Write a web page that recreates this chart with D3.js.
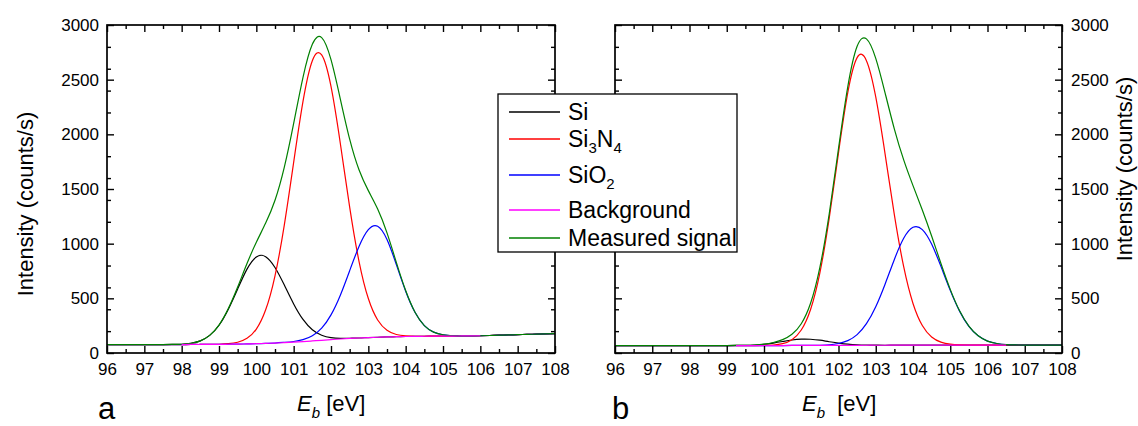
<!DOCTYPE html>
<html>
<head>
<meta charset="utf-8">
<script src="https://cdn.jsdelivr.net/npm/d3@7"></script>
<style>
  body { margin: 0; background: #fff; }
  svg { display: block; font-family: "Liberation Sans", Arial, sans-serif; }
</style>
</head>
<body>
<div id="chart"></div>
<script>
// binding energy grid (eV)
const energy = [96, 96.25, 96.5, 96.75, 97, 97.25, 97.5, 97.75, 98, 98.25, 98.5, 98.75,
  99, 99.25, 99.5, 99.75, 100, 100.25, 100.5, 100.75, 101, 101.25, 101.5, 101.75,
  102, 102.25, 102.5, 102.75, 103, 103.25, 103.5, 103.75, 104, 104.25, 104.5, 104.75,
  105, 105.25, 105.5, 105.75, 106, 106.25, 106.5, 106.75, 107, 107.25, 107.5, 107.75, 108]

// panel a (counts/s, component curves include background)
const siA = [76, 76, 76, 76, 76, 76, 77, 78, 80, 89, 111, 161, 254, 401, 586, 767, 879, 881, 782, 621,
  449, 307, 213, 162, 140, 134, 135, 137, 141, 144, 147, 149, 151, 152, 153, 154, 155, 155, 156, 157,
  158, 160, 163, 165, 168, 170, 173, 175, 177]
const si3n4A = [76, 76, 76, 76, 76, 76, 77, 77, 77, 78, 78, 79, 80, 85, 98, 134, 219, 395, 706, 1172,
  1744, 2301, 2673, 2727, 2438, 1916, 1334, 839, 498, 302, 208, 169, 157, 153, 153, 154, 155, 155, 156, 157,
  158, 160, 163, 165, 168, 170, 173, 175, 177]
const sio2A = [76, 76, 76, 76, 76, 76, 77, 77, 77, 78, 78, 79, 79, 80, 81, 83, 85, 88, 91, 97,
  105, 122, 158, 228, 349, 529, 753, 974, 1128, 1159, 1038, 809, 565, 372, 251, 191, 167, 158, 157, 157,
  158, 160, 163, 165, 168, 170, 173, 175, 177]
// background is only visible over the fit range
const bgA = [null, null, null, null, null, null, null, null, 77, 78, 78, 79, 79, 80, 81, 83, 85, 88, 91, 95,
  99, 104, 110, 116, 122, 128, 133, 137, 141, 144, 147, 149, 151, 152, 153, 154, 155, 155, 156, 157,
  158, null, null, null, null, null, null, null, null]
const measA = [76, 76, 76, 76, 76, 76, 77, 78, 80, 89, 111, 161, 255, 406, 603, 818, 1013, 1188, 1397, 1700,
  2100, 2522, 2824, 2885, 2683, 2323, 1956, 1676, 1485, 1317, 1099, 829, 571, 373, 251, 191, 167, 158, 157, 157,
  158, 160, 163, 165, 168, 170, 173, 175, 177]

// panel b
const siB = [68, 68, 68, 68, 68, 68, 68, 68, 68, 68, 68, 68, 68, 69, 70, 73, 80, 91, 105, 119,
  127, 126, 117, 103, 91, 81, 75, 73, 72, 71, 72, 72, 72, 72, 72, 72, 72, 72, 72, 72,
  72, 72, 72, 72, 72, 72, 72, 72, 72]
const si3n4B = [68, 68, 68, 68, 68, 68, 68, 68, 68, 68, 68, 68, 68, 68, 68, 68, 69, 73, 85, 121,
  210, 398, 733, 1231, 1831, 2383, 2702, 2674, 2342, 1822, 1264, 789, 453, 251, 146, 99, 81, 75, 73, 72,
  72, 72, 72, 72, 72, 72, 72, 72, 72]
const sio2B = [68, 68, 68, 68, 68, 68, 68, 68, 68, 68, 68, 68, 68, 68, 68, 68, 68, 68, 68, 69,
  69, 69, 71, 75, 87, 113, 168, 268, 423, 629, 856, 1049, 1150, 1129, 996, 792, 573, 383, 244, 157,
  109, 87, 77, 74, 72, 72, 72, 72, 72]
const bgB = [null, null, null, null, null, null, null, null, null, null, null, null, null, 68, 68, 68, 68, 68, 68, 69,
  69, 69, 69, 69, 70, 70, 70, 71, 71, 71, 72, 72, 72, 72, 72, 72, 72, 72, 72, 72,
  72, 72, 72, null, null, null, null, null, null]
const measB = [68, 68, 68, 68, 68, 68, 68, 68, 68, 68, 68, 68, 68, 69, 70, 73, 81, 96, 122, 171,
  268, 455, 783, 1271, 1869, 2437, 2805, 2873, 2695, 2380, 2048, 1766, 1531, 1308, 1070, 819, 582, 386, 245, 157,
  109, 87, 77, 74, 72, 72, 72, 72, 72]

const xTicks = [96, 97, 98, 99, 100, 101, 102, 103, 104, 105, 106, 107, 108]
const yTicks = [0, 500, 1000, 1500, 2000, 2500, 3000]

const seriesNames = ["Si", "Si3N4", "SiO2", "Background", "Measured signal"]
const seriesColors = ["#000000", "#ff0000", "#0000ff", "#ff00ff", "#008000"]
// drawing order: measured under the background line
const drawOrder = [0, 1, 2, 4, 3]

const W = 1138, H = 426
const plotTop = 25, plotBottom = 353

const svg = d3.select("#chart").append("svg")
  .attr("width", W)
  .attr("height", H)

svg.append("rect").attr("width", W).attr("height", H).attr("fill", "#fff")

const y = d3.scaleLinear().domain([0, 3000]).range([plotBottom, plotTop])

const panels = [
  { id: "a", x0: 107, x1: 555, data: [siA, si3n4A, sio2A, bgA, measA], labelSide: "left" },
  { id: "b", x0: 615, x1: 1062, data: [siB, si3n4B, sio2B, bgB, measB], labelSide: "right" }
]

function styleAxis(g) {
  g.select(".domain").remove()
  g.attr("font-family", null).attr("font-size", 17)
  g.selectAll("line").attr("stroke", "#000").attr("stroke-width", 1.4)
  g.selectAll("text").attr("fill", "#000")
}

panels.forEach(p => {
  const x = d3.scaleLinear().domain([96, 108]).range([p.x0, p.x1])
  const xMinor = x.ticks(24).filter(d => d % 1 !== 0)
  const yMinor = y.ticks(12).filter(d => d % 500 !== 0)
  const g = svg.append("g")

  g.append("clipPath").attr("id", "clip-" + p.id)
    .append("rect")
    .attr("x", p.x0).attr("y", plotTop)
    .attr("width", p.x1 - p.x0).attr("height", plotBottom - plotTop)

  const line = d3.line()
    .defined(d => d[1] != null)
    .x(d => x(d[0]))
    .y(d => y(d[1]))
    .curve(d3.curveNatural)

  g.append("g").attr("clip-path", `url(#clip-${p.id})`)
    .selectAll("path")
    .data(drawOrder)
    .join("path")
    .attr("d", k => line(energy.map((e, i) => [e, p.data[k][i]])))
    .attr("fill", "none")
    .attr("stroke", k => seriesColors[k])
    .attr("stroke-width", 1.2)

  // bottom axis with labels
  g.append("g")
    .attr("transform", `translate(0,${plotBottom})`)
    .call(d3.axisBottom(x).tickValues(xTicks).tickSize(-7).tickPadding(10).tickFormat(d3.format("d")))
    .call(styleAxis)
  g.append("g")
    .attr("transform", `translate(0,${plotBottom})`)
    .call(d3.axisBottom(x).tickValues(xMinor).tickSize(-4).tickFormat(""))
    .call(styleAxis)
  // top axis
  g.append("g")
    .attr("transform", `translate(0,${plotTop})`)
    .call(d3.axisTop(x).tickValues(xTicks).tickSize(-7).tickFormat(""))
    .call(styleAxis)
  g.append("g")
    .attr("transform", `translate(0,${plotTop})`)
    .call(d3.axisTop(x).tickValues(xMinor).tickSize(-4).tickFormat(""))
    .call(styleAxis)
  // left / right axes
  g.append("g")
    .attr("transform", `translate(${p.x0},0)`)
    .call(d3.axisLeft(y).tickValues(yTicks).tickSize(-7).tickPadding(8)
      .tickFormat(p.labelSide === "left" ? d3.format("d") : ""))
    .call(styleAxis)
  g.append("g")
    .attr("transform", `translate(${p.x0},0)`)
    .call(d3.axisLeft(y).tickValues(yMinor).tickSize(-4).tickFormat(""))
    .call(styleAxis)
  g.append("g")
    .attr("transform", `translate(${p.x1},0)`)
    .call(d3.axisRight(y).tickValues(yTicks).tickSize(-7).tickPadding(9)
      .tickFormat(p.labelSide === "right" ? d3.format("d") : ""))
    .call(styleAxis)
  g.append("g")
    .attr("transform", `translate(${p.x1},0)`)
    .call(d3.axisRight(y).tickValues(yMinor).tickSize(-4).tickFormat(""))
    .call(styleAxis)

  // frame
  g.append("rect")
    .attr("x", p.x0).attr("y", plotTop)
    .attr("width", p.x1 - p.x0).attr("height", plotBottom - plotTop)
    .attr("fill", "none").attr("stroke", "#000").attr("stroke-width", 1.7)

  // x title
  const xt = g.append("text")
    .attr("x", p.id === "a" ? 297 : 802)
    .attr("y", 411)
    .attr("font-size", 22)
  xt.append("tspan").attr("font-style", "italic").text("E")
  xt.append("tspan").attr("font-style", "italic").attr("font-size", 15).attr("dy", 7).text("b")
  xt.append("tspan").attr("dy", -7).attr("dx", p.id === "a" ? 0 : 6).text(" [eV]")

  // panel letter
  g.append("text")
    .attr("x", p.id === "a" ? 98 : 612)
    .attr("y", 419)
    .attr("font-size", 31)
    .text(p.id)
})

// y titles
svg.append("text")
  .attr("transform", "translate(33,204) rotate(-90)")
  .attr("text-anchor", "middle")
  .attr("font-size", 22)
  .text("Intensity (counts/s)")
svg.append("text")
  .attr("transform", "translate(1132,169) rotate(-90)")
  .attr("text-anchor", "middle")
  .attr("font-size", 22)
  .text("Intensity (counts/s)")

// legend
const legend = svg.append("g")
legend.append("rect")
  .attr("x", 498).attr("y", 94)
  .attr("width", 239).attr("height", 158)
  .attr("fill", "#fff").attr("stroke", "#000").attr("stroke-width", 1.3)

const rowY = [112, 139, 175, 210, 238]
seriesNames.forEach((name, i) => {
  legend.append("line")
    .attr("x1", 509).attr("x2", 560)
    .attr("y1", rowY[i]).attr("y2", rowY[i])
    .attr("stroke", seriesColors[i]).attr("stroke-width", 1.4)
  const t = legend.append("text")
    .attr("x", 568).attr("y", rowY[i] + 8)
    .attr("font-size", 23)
  // chemical formulas with subscripts
  const parts = name.match(/[A-Za-z ]+|\d+/g)
  let sub = false
  parts.forEach(s => {
    const isNum = /^\d+$/.test(s)
    const ts = t.append("tspan").text(s)
    if (isNum && !sub) { ts.attr("font-size", 15).attr("dy", 6); sub = true }
    else if (!isNum && sub) { ts.attr("dy", -6); sub = false }
  })
})
</script>
</body>
</html>
